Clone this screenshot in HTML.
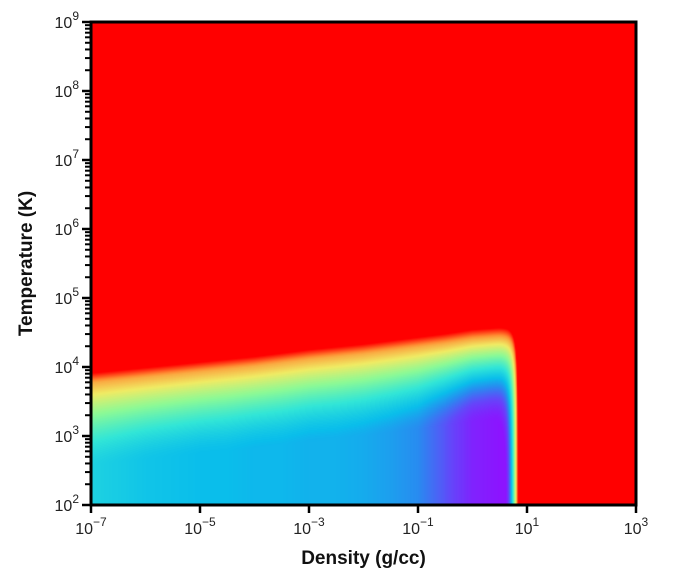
<!DOCTYPE html>
<html><head><meta charset="utf-8"><style>
html,body{margin:0;padding:0;background:#fff;width:676px;height:586px;overflow:hidden;font-family:"Liberation Sans",sans-serif}
#hm{position:absolute;left:91px;top:22px}
svg{position:absolute;left:0;top:0}
</style></head><body>
<canvas id="hm" width="545" height="483"></canvas>
<svg id="ax" width="676" height="586"></svg>
<script>
// data
const densityLog = [-7,-6.5,-6,-5.5,-5,-4.5,-4,-3.5,-3,-2.5,-2,-1.5,-1,-0.5,0,0.5,1,1.5,2,2.5,3];
const boundaryLogT = [3.70,3.74,3.78,3.82,3.86,3.90,3.94,3.99,4.04,4.08,4.12,4.17,4.22,4.27,4.33,4.36,4.36,4.36,4.36,4.36,4.36];
const baseValue = [0.34,0.32,0.30,0.29,0.28,0.28,0.27,0.27,0.26,0.26,0.25,0.23,0.20,0.12,0.03,0.0,0,0,0,0,0];
const cutoffLogRho = 0.80;
const xTicks = [-7,-5,-3,-1,1,3];
const yTicks = [2,3,4,5,6,7,8,9];

const X0=91,X1=636,Y0=22,Y1=505, xmin=-7,xmax=3,ymin=2,ymax=9;
const xs=v=>X0+(v-xmin)/(xmax-xmin)*(X1-X0);
const ys=v=>Y1-(v-ymin)/(ymax-ymin)*(Y1-Y0);
const cmap=[[0,[140,20,255]],[0.1,[100,70,250]],[0.2,[40,140,240]],[0.28,[10,190,235]],[0.4,[50,230,215]],[0.55,[140,250,150]],[0.7,[240,235,100]],[0.85,[255,140,50]],[1,[255,0,0]]];
function col(v){v=Math.max(0,Math.min(1,v));for(let i=1;i<cmap.length;i++){if(v<=cmap[i][0]){const a=cmap[i-1],b=cmap[i],t=(v-a[0])/(b[0]-a[0]);return a[1].map((c,k)=>c+(b[1][k]-c)*t);}}return cmap[cmap.length-1][1];}
function interp(arr,x){const f=(x-densityLog[0])/0.5;const i=Math.max(0,Math.min(arr.length-2,Math.floor(f)));const t=Math.max(0,Math.min(1,f-i));return arr[i]+(arr[i+1]-arr[i])*t;}
const cv=document.getElementById('hm'),ctx=cv.getContext('2d');
const W=cv.width,H=cv.height,img=ctx.createImageData(W,H);
const Wr=1.2, C=1.2/0.2, K=2.5;
for(let px=0;px<W;px++){
  const x=xmin+(px+0.5)/W*(xmax-xmin);
  const bT=interp(boundaryLogT,x), base=interp(baseValue,x);
  const h=(x-cutoffLogRho)*C;
  for(let py=0;py<H;py++){
    const y=ymax-(py+0.5)/H*(ymax-ymin);
    const d=y-bT;
    const m=Math.max(d,h);
    const s=m+Math.log(Math.exp(K*(d-m))+Math.exp(K*(h-m)))/K - Math.log(2)/K*0.25;
    let v;
    if(s<-Wr)v=base; else if(s<0){const t=(s+Wr)/Wr;v=base+(0.8-base)*Math.pow(t,1.6);} else v=0.8+0.2*s/0.14;
    const c=col(v),o=(py*W+px)*4;
    img.data[o]=c[0];img.data[o+1]=c[1];img.data[o+2]=c[2];img.data[o+3]=255;
  }
}
ctx.putImageData(img,0,0);

const svg=document.getElementById('ax'),NS='http://www.w3.org/2000/svg';
function el(tag,attrs,parent){const e=document.createElementNS(NS,tag);for(const k in attrs)e.setAttribute(k,attrs[k]);(parent||svg).appendChild(e);return e;}
const frame=el('rect',{x:X0,y:Y0,width:X1-X0,height:Y1-Y0,fill:'none',stroke:'#000','stroke-width':3});


yTicks.forEach(t=>{
  const y=ys(t);
  const tk=el('line',{x1:X0-9,x2:X0,y1:y,y2:y,stroke:'#000','stroke-width':2.5});
  
  
  if(t<9){for(let m=2;m<10;m++){const ym=ys(t+Math.log10(m));const mt=el('line',{x1:X0-6,x2:X0,y1:ym,y2:ym,stroke:'#000','stroke-width':2});
    
    }}
  const tx=el('text',{x:X0-12,y:y+6,'text-anchor':'end','font-size':16,fill:'#222'});
  
  
  tx.innerHTML='10<tspan dy="-8" font-size="12">'+t+'</tspan>';
});
xTicks.forEach(t=>{
  const x=xs(t);
  const tk=el('line',{x1:x,x2:x,y1:Y1,y2:Y1+8,stroke:'#000','stroke-width':2.5});
  
  
  const tx=el('text',{x:x,y:Y1+29,'text-anchor':'middle','font-size':16,fill:'#222'});
  
  
  tx.innerHTML='10<tspan dy="-8" font-size="12">'+(t<0?'\u2212'+(-t):t)+'</tspan>';
});
const xt=el('text',{x:(X0+X1)/2,y:564,'text-anchor':'middle','font-size':19,'font-weight':'bold',fill:'#111'});


xt.textContent='Density (g/cc)';
const yt=el('text',{x:0,y:0,'text-anchor':'middle','font-size':19,'font-weight':'bold',fill:'#111',transform:'translate(32,'+((Y0+Y1)/2)+') rotate(-90)'});


yt.textContent='Temperature (K)';
</script>
</body></html>
